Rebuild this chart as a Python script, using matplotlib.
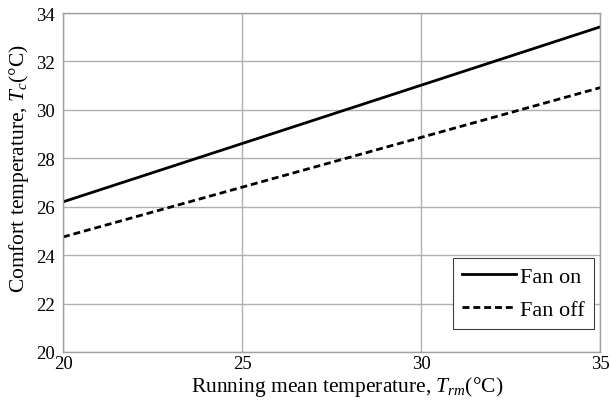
import matplotlib
matplotlib.use('Agg')
import matplotlib.pyplot as plt

# running mean temperature (x) and comfort temperature for each fan mode
trm = [20, 35]
tc_fan_on = [26.2, 33.43]
tc_fan_off = [24.75, 30.92]

xticks = [20, 25, 30, 35]
yticks = [20, 22, 24, 26, 28, 30, 32, 34]

plt.rcParams['font.family'] = ['Liberation Serif', 'DejaVu Serif']
plt.rcParams['mathtext.fontset'] = 'custom'
plt.rcParams['mathtext.it'] = 'Liberation Serif:italic'
plt.rcParams['mathtext.rm'] = 'Liberation Serif'

fig, ax = plt.subplots(figsize=(6.1, 4.02), dpi=100)
fig.subplots_adjust(left=0.1033, right=0.984, top=0.965, bottom=0.122)

ax.plot(trm, tc_fan_on, color='black', lw=2.0, label='Fan on')
ax.plot(trm, tc_fan_off, color='black', lw=2.0, ls=(0, (2.5, 1.4)), label='Fan off')

ax.set_xlim(20, 35)
ax.set_ylim(20, 34)
ax.set_xticks(xticks)
ax.set_yticks(yticks)
ax.tick_params(length=0, labelsize=13.5)
ax.tick_params(axis='y', pad=6)
ax.tick_params(axis='x', pad=2)
ax.grid(True, color='#b0b0b0', lw=1.0)
for s in ax.spines.values():
    s.set_color('#a0a0a0')
    s.set_linewidth(1.0)

ax.set_xlabel('Running mean temperature, $T_{rm}$(°C)', fontsize=15.5)
ax.set_ylabel('Comfort temperature, $T_c$(°C)', fontsize=15.5)
ax.xaxis.set_label_coords(0.529, -0.066)
ax.yaxis.set_label_coords(-0.060, 0.545)

leg = ax.legend(loc='lower right', bbox_to_anchor=(0.988, 0.068), borderaxespad=0,
                fontsize=16, fancybox=False, framealpha=1, edgecolor='#404040',
                handlelength=2.4, handletextpad=0.2, labelspacing=0.55,
                borderpad=0.4)
leg.get_frame().set_linewidth(0.8)

fig.savefig('out.png', dpi=100)
